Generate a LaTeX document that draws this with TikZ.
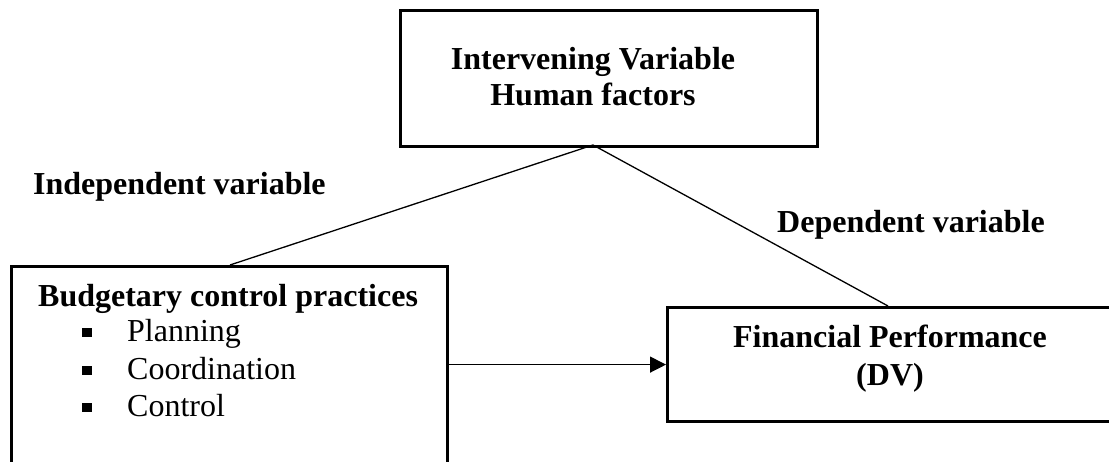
\documentclass[tikz,border=0pt]{standalone}
\usepackage{fontspec}
\setmainfont{Liberation Serif}
\usetikzlibrary{arrows.meta}
\begin{document}
\begin{tikzpicture}[x=1pt,y=-1pt,
  box/.style={draw=black,line width=3.2pt,rectangle,inner sep=0pt,anchor=north west},
  lbl/.style={inner sep=0pt,font=\fontsize{32}{38}\selectfont\bfseries},
  itm/.style={inner sep=0pt,anchor=base west,font=\fontsize{32}{38}\selectfont},
  conn/.style={draw=black,line width=1.3pt}]
\useasboundingbox (0,0) rectangle (1109,462);
\clip (0,0) rectangle (1109,462);
% boxes
\node[box,minimum width=417pt,minimum height=136pt] (top) at (399,9) {};
\node[box,minimum width=436pt,minimum height=260pt] (left) at (10,265) {};
\node[box,minimum width=520pt,minimum height=114pt] (right) at (666,306) {};
% texts
\node[lbl,anchor=base] (t1) at (593,70) {Intervening Variable};
\node[lbl,anchor=base] (t2) at (593,106) {Human factors};
\node[lbl,anchor=base west] (iv) at (33,195) {Independent variable};
\node[lbl,anchor=base west] (dv) at (777,233) {Dependent variable};
\node[lbl,anchor=base west] (b0) at (38,307) {Budgetary control practices};
\node[itm] (b1) at (82,342) {\rule[4.5pt]{10pt}{9.5pt}\hspace{35pt}Planning};
\node[itm] (b2) at (82,380) {\rule[4.5pt]{10pt}{9.5pt}\hspace{35pt}Coordination};
\node[itm] (b3) at (82,417) {\rule[4.5pt]{10pt}{9.5pt}\hspace{35pt}Control};
\node[lbl,anchor=base] (f1) at (890,348) {Financial Performance};
\node[lbl,anchor=base] (f2) at (890,385) {(DV)};
% connectors
\coordinate (tb) at (593,145);
\coordinate (lt) at (230,265);
\coordinate (rt) at (888,306);
\draw[conn] (lt) -- (tb) -- (rt);
\draw[conn,-{Triangle[length=16pt,width=16pt]}] (left.east |- right.west) -- (right.west);
\end{tikzpicture}
\end{document}
